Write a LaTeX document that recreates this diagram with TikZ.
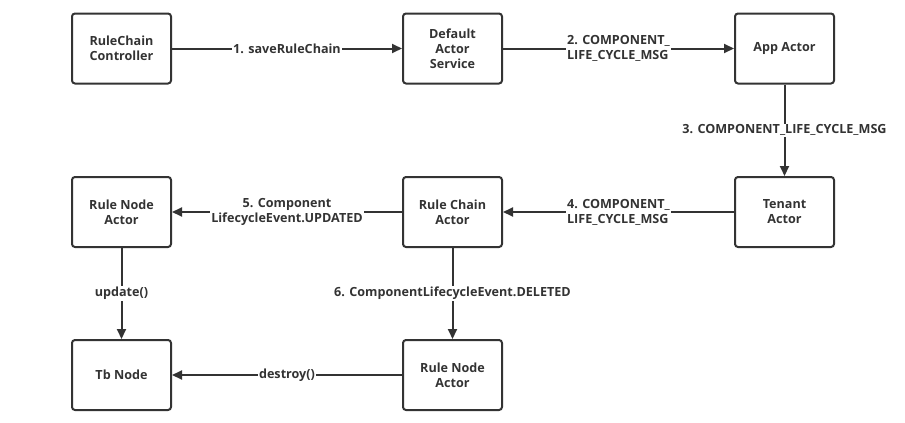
\documentclass[tikz,border=0pt]{standalone}
\usepackage{fontspec}
\setmainfont{Open Sans}
\usetikzlibrary{arrows.meta}
\definecolor{ink}{HTML}{333333}
\begin{document}
\begin{tikzpicture}[x=1pt,y=-1pt,
  box/.style={draw=ink,line width=2pt,rounded corners=3pt,minimum width=99pt,minimum height=70pt,align=center,text=ink,font=\bfseries\fontsize{12.6}{15}\selectfont,inner sep=0pt},
  conn/.style={draw=ink,line width=2pt,-{Triangle[length=10pt,width=9pt]}},
  lab/.style={fill=white,text=ink,font=\bfseries\fontsize{12.6}{15}\selectfont,inner sep=1pt}]
\useasboundingbox (0,0) rectangle (905,423);
\node[box] (rcc) at (121.5,48.5) {RuleChain\\Controller};
\node[box] (das) at (452.5,48.5) {Default\\Actor\\Service};
\node[box] (app) at (784.5,48.5) {App Actor};
\node[box] (ten) at (784.5,212) {Tenant\\Actor};
\node[box] (rca) at (452.5,212) {Rule Chain\\Actor};
\node[box] (rna) at (121.5,212) {Rule Node\\Actor};
\node[box] (tb) at (121.5,375) {Tb Node};
\node[box] (rnb) at (452.5,375) {Rule Node\\Actor};
\draw[conn] (rcc) -- node[lab] (l1) {1. saveRuleChain} (das);
\draw[conn] (das) -- node[lab,align=left] (l2) {2. COMPONENT\_\\LIFE\_CYCLE\_MSG} (app);
\draw[conn] (app) -- node[lab] (l3) {3. COMPONENT\_LIFE\_CYCLE\_MSG} (ten);
\draw[conn] (ten) -- node[lab,align=left] (l4) {4. COMPONENT\_\\LIFE\_CYCLE\_MSG} (rca);
\draw[conn] (rca) -- node[lab,align=center] (l5) {5. Component\\LifecycleEvent.UPDATED} (rna);
\draw[conn] (rca) -- node[lab] (l6) {6. ComponentLifecycleEvent.DELETED} (rnb);
\draw[conn] (rna) -- node[lab] (l7) {update()} (tb);
\draw[conn] (rnb) -- node[lab] (l8) {destroy()} (tb);
\end{tikzpicture}
\end{document}
